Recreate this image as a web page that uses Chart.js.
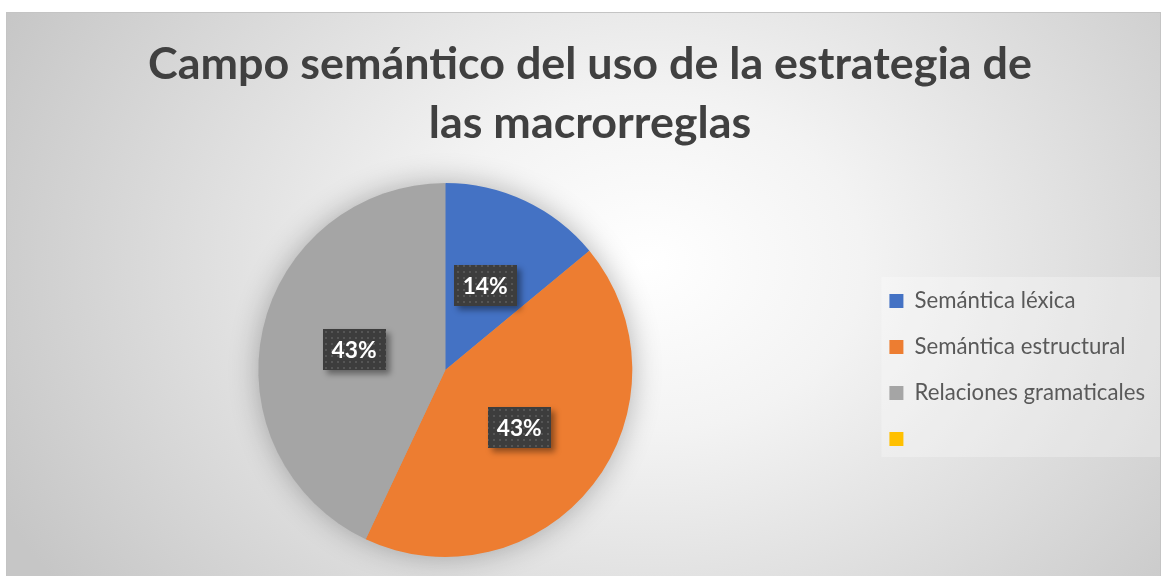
<!DOCTYPE html>
<html>
<head>
<meta charset="utf-8">
<script src="https://cdn.jsdelivr.net/npm/chart.js@4.4.1/dist/chart.umd.min.js"></script>
<style>
  body { margin:0; width:1162px; height:576px; overflow:hidden; background:#fff; position:relative; }
  #frame { position:absolute; left:6px; top:12px; width:1153px; height:580px; border:1px solid #c4c4c4;
           background: radial-gradient(ellipse 720px 560px at 640px 250px, #ffffff 0%, #f3f3f3 30%, #c6c6c6 100%); }
  #myChart { position:absolute; left:0; top:0; }
</style>
</head>
<body>
<div id="frame"></div>
<canvas id="myChart" width="1162" height="576"></canvas>
<script>
// datos del grafico
var categorias = ['Semántica léxica', 'Semántica estructural', 'Relaciones gramaticales', ''];
var valores = [14, 43, 43, 0];
var colores = ['#4472C4', '#ED7D31', '#A5A5A5', '#FFC000'];
var titulo = ['Campo semántico del uso de la estrategia de', 'las macrorreglas'];

var fam = 'Lato, "Open Sans", sans-serif';

// ajusta el tamaño de letra para que el texto ocupe el ancho medido
function fitSize(text, weight, w) {
  var c = document.createElement('canvas').getContext('2d');
  c.font = weight + ' 100px ' + fam;
  return 100 * w / c.measureText(text).width;
}
var titleSize = fitSize(titulo[0], 'bold', 884);
var legendSize = fitSize(categorias[0], 'normal', 161);
var labelSize = fitSize('43%', 'bold', 45);

// patron punteado de las etiquetas
var tile = document.createElement('canvas');
tile.width = 6; tile.height = 6;
var tctx = tile.getContext('2d');
tctx.fillStyle = '#3d3d3d'; tctx.fillRect(0, 0, 6, 6);
tctx.fillStyle = '#555555'; tctx.fillRect(1, 1, 2, 2);

var sombraPie = {
  id: 'sombraPie',
  beforeDraw: function(chart) {
    var lg = chart.legend, hb = lg.legendHitBoxes;
    if (!hb || !hb.length) return;
    var ctx = chart.ctx;
    var top = hb[0].top + (hb[0].height - 14) / 2 - 17;
    var last = hb[hb.length - 1];
    var bot = last.top + (last.height + 14) / 2 + 11;
    ctx.save();
    ctx.fillStyle = 'rgba(255,255,255,0.28)';
    ctx.fillRect(hb[0].left - 8, top, 1160 - (hb[0].left - 8), bot - top);
    ctx.restore();
  },
  beforeDatasetsDraw: function(chart) {
    var arc = chart.getDatasetMeta(0).data[0];
    if (!arc) return;
    var ctx = chart.ctx;
    ctx.save();
    ctx.shadowColor = 'rgba(0,0,0,0.3)';
    ctx.shadowBlur = 30;
    ctx.fillStyle = '#A5A5A5';
    ctx.beginPath();
    ctx.arc(arc.x, arc.y, arc.outerRadius - 1, 0, Math.PI * 2);
    ctx.fill();
    ctx.restore();
  }
};

var etiquetas = {
  id: 'etiquetas',
  afterDatasetsDraw: function(chart) {
    var ctx = chart.ctx;
    var total = valores.reduce(function(a, b) { return a + b; }, 0);
    var pat = ctx.createPattern(tile, 'repeat');
    chart.getDatasetMeta(0).data.forEach(function(arc, i) {
      if (!valores[i]) return;
      var p = arc.tooltipPosition();
      var w = 63, h = 41;
      var x = Math.round(p.x - w / 2), y = Math.round(p.y - h / 2);
      ctx.save();
      ctx.shadowColor = 'rgba(0,0,0,0.4)';
      ctx.shadowBlur = 6; ctx.shadowOffsetX = 4; ctx.shadowOffsetY = 4;
      ctx.fillStyle = '#3d3d3d';
      ctx.fillRect(x, y, w, h);
      ctx.restore();
      ctx.save();
      ctx.fillStyle = pat;
      ctx.fillRect(x, y, w, h);
      ctx.fillStyle = '#ffffff';
      ctx.font = 'bold ' + labelSize + 'px ' + fam;
      ctx.textAlign = 'center';
      ctx.textBaseline = 'middle';
      ctx.fillText(Math.round(valores[i] / total * 100) + '%', p.x, p.y + 1);
      ctx.restore();
    });
  }
};

new Chart('myChart', {
  type: 'pie',
  data: {
    labels: categorias,
    datasets: [{
      data: valores,
      backgroundColor: colores,
      borderWidth: 0
    }]
  },
  options: {
    responsive: false,
    animation: false,
    layout: { padding: { left: 25, right: 7, top: 0, bottom: 19 } },
    plugins: {
      title: {
        display: true,
        text: titulo,
        color: '#404040',
        font: { family: fam, size: titleSize, weight: 'bold', lineHeight: 59 / titleSize },
        padding: { top: 35, bottom: 30 }
      },
      legend: {
        position: 'right',
        fullSize: false,
        labels: {
          color: '#595959',
          boxWidth: 14,
          boxHeight: 14,
          padding: 46 - Math.max(legendSize, 14),
          font: { family: fam, size: legendSize }
        }
      },
      tooltip: { enabled: false }
    }
  },
  plugins: [sombraPie, etiquetas]
});
</script>
</body>
</html>
